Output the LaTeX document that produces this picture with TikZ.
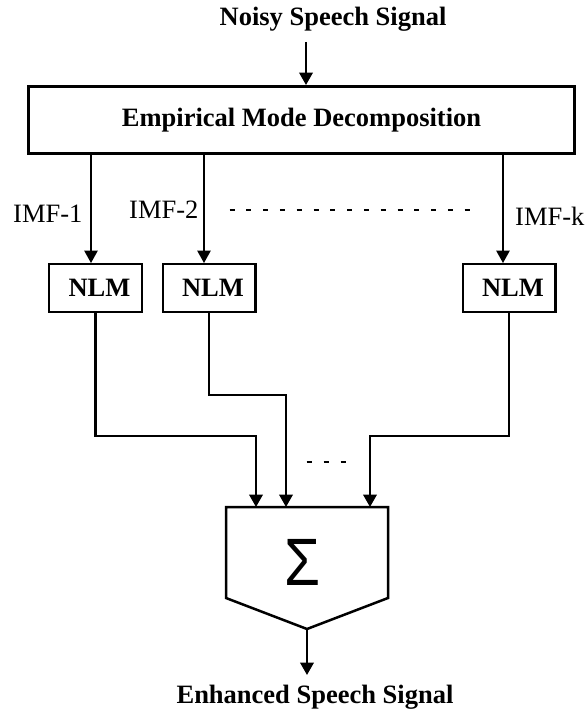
\documentclass[tikz,border=0pt]{standalone}
\usepackage{fontspec}
\usepackage{graphicx}
\setmainfont{Liberation Serif}
\newfontfamily\sumfont{Liberation Sans}
\usetikzlibrary{arrows.meta}

\begin{document}
\begin{tikzpicture}[x=1pt,y=-1pt,
  lbl/.style={inner sep=0pt, font=\fontsize{26.5}{30}\selectfont\bfseries},
  imflbl/.style={inner sep=0pt, anchor=base west, font=\fontsize{26.5}{30}\selectfont},
  block/.style={draw, line width=2.3pt, minimum width=92.7pt, minimum height=47.7pt,
                inner sep=0pt, font=\fontsize{26.5}{30}\selectfont\bfseries},
  tip/.style={-{Triangle[width=13.5pt,length=12.5pt]}},
  thinwire/.style={line width=1.35pt, tip},
  wire/.style={line width=2.3pt, tip},
  dots/.style={line width=2.2pt},
]
\useasboundingbox (0,0) rectangle (584,709);

% input and decomposition
\node[lbl, anchor=base] (noisy) at (333,26) {Noisy Speech Signal};
\node[block, line width=2.6pt, minimum width=546.4pt, minimum height=67.4pt]
  (emd) at (301.5,120) {Empirical Mode Decomposition};
\coordinate (in) at (306,42);
\draw[wire] (in) -- (in |- emd.north);

% per-mode filters
\node[block] (nlm1) at (95.5,288) {\kern8pt NLM};
\node[block] (nlm2) at (209,288) {\kern8pt NLM};
\node[block] (nlmk) at (509,288) {\kern8pt NLM};

\draw[thinwire] ([xshift=-4.5pt]nlm1.north |- emd.south) -- ([xshift=-4.5pt]nlm1.north);
\draw[thinwire] ([xshift=-5pt]nlm2.north |- emd.south) -- ([xshift=-5pt]nlm2.north);
\draw[thinwire] ([xshift=-6pt]nlmk.north |- emd.south) -- ([xshift=-6pt]nlmk.north);

\node[imflbl] (l1) at (13,222) {IMF-1};
\node[imflbl] (l2) at (129,218) {IMF-2};
\node[imflbl] (lk) at (515,225) {IMF-k};
\draw[dots, dash pattern=on 5pt off 11.8pt] (229.5,210) -- (470,210);

% summation block
\coordinate (s1) at (256,507);
\coordinate (s2) at (286,507);
\coordinate (s3) at (370,507);
\coordinate (out) at (307,629);
\draw[line width=2.5pt, line join=miter]
  (226,507) -- (388,507) -- (388,598) -- (out) -- (226,598) -- cycle;
\node[inner sep=0pt, font=\sumfont\fontsize{67}{67}\selectfont]
  (sum) at (302.5,562.5) {\scalebox{0.87}[1]{Σ}};

\draw[wire] (nlm1.south) -- ++(0,123) -| (s1);
\draw[wire] (nlm2.south) -- ++(0,82) -| (s2);
\draw[wire] (nlmk.south) -- ++(0,123) -| (s3);
\draw[dots, dash pattern=on 5pt off 12pt] (306.5,462) -- (346,462);

% output
\node[lbl, anchor=base] (enh) at (315,703) {Enhanced Speech Signal};
\draw[wire] (out) -- ++(0,46);
\end{tikzpicture}
\end{document}
